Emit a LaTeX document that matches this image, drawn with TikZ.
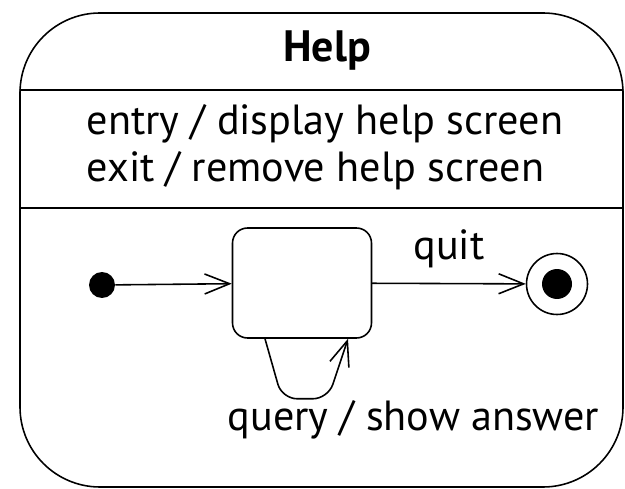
\documentclass[tikz,border=0pt]{standalone}
\usepackage{fontspec}
\setmainfont{PT Sans}
\usetikzlibrary{arrows.meta,positioning}

\begin{document}
\begin{tikzpicture}[x=0.02cm,y=-0.02cm,line cap=round,line width=0.9pt,
        >={Straight Barb[length=5mm,width=4mm]},
        every node/.style={font=\fontsize{24}{30}\selectfont,inner sep=0pt},
        substate/.style={draw,rounded corners=0.3cm,minimum width=2.78cm,minimum height=2.2cm},
        initial/.style={circle,fill,minimum size=0.52cm},
        final/.style={circle,draw,minimum size=1.22cm}]
        \useasboundingbox (0,0) rectangle (625,489);

        % draw the composite state and its compartments
        \draw[rounded corners=1.6cm] (20,13) rectangle (623,487);
        \draw (20,90) -- (623,90);
        \draw (20,208) -- (623,208);

        % name and internal actions
        \node[anchor=base,font=\fontsize{25}{30}\selectfont\bfseries] (title) at (327,62) {Help};
        \node[anchor=base west] (entryact) at (86,135) {entry / display help screen};
        \node[anchor=base west] (exitact) at (86,182) {exit / remove help screen};

        % the inner states
        \node[initial] (init) at (102,285) {};
        \node[substate] (sub) at (302,283) {};
        \node[final] (fin) at (557,284) {};
        \fill (fin) circle (0.3cm);

        % transitions
        \draw[->] (init) -- (sub);
        \draw[->] (sub) -- node[above=0.3cm] (quit) {quit} (fin);

        % self transition below the state
        \coordinate (loopout) at ([xshift=-0.74cm]sub.south);
        \coordinate (loopin) at ([xshift=0.92cm]sub.south);
        \draw[->,rounded corners=0.3cm] (loopout) -- ++(0.34cm,-1.2cm) -- ++(0.92cm,0) -- (loopin);
        \node[anchor=base west] (loopact) at (227,430) {query / show answer};
\end{tikzpicture}
\end{document}
